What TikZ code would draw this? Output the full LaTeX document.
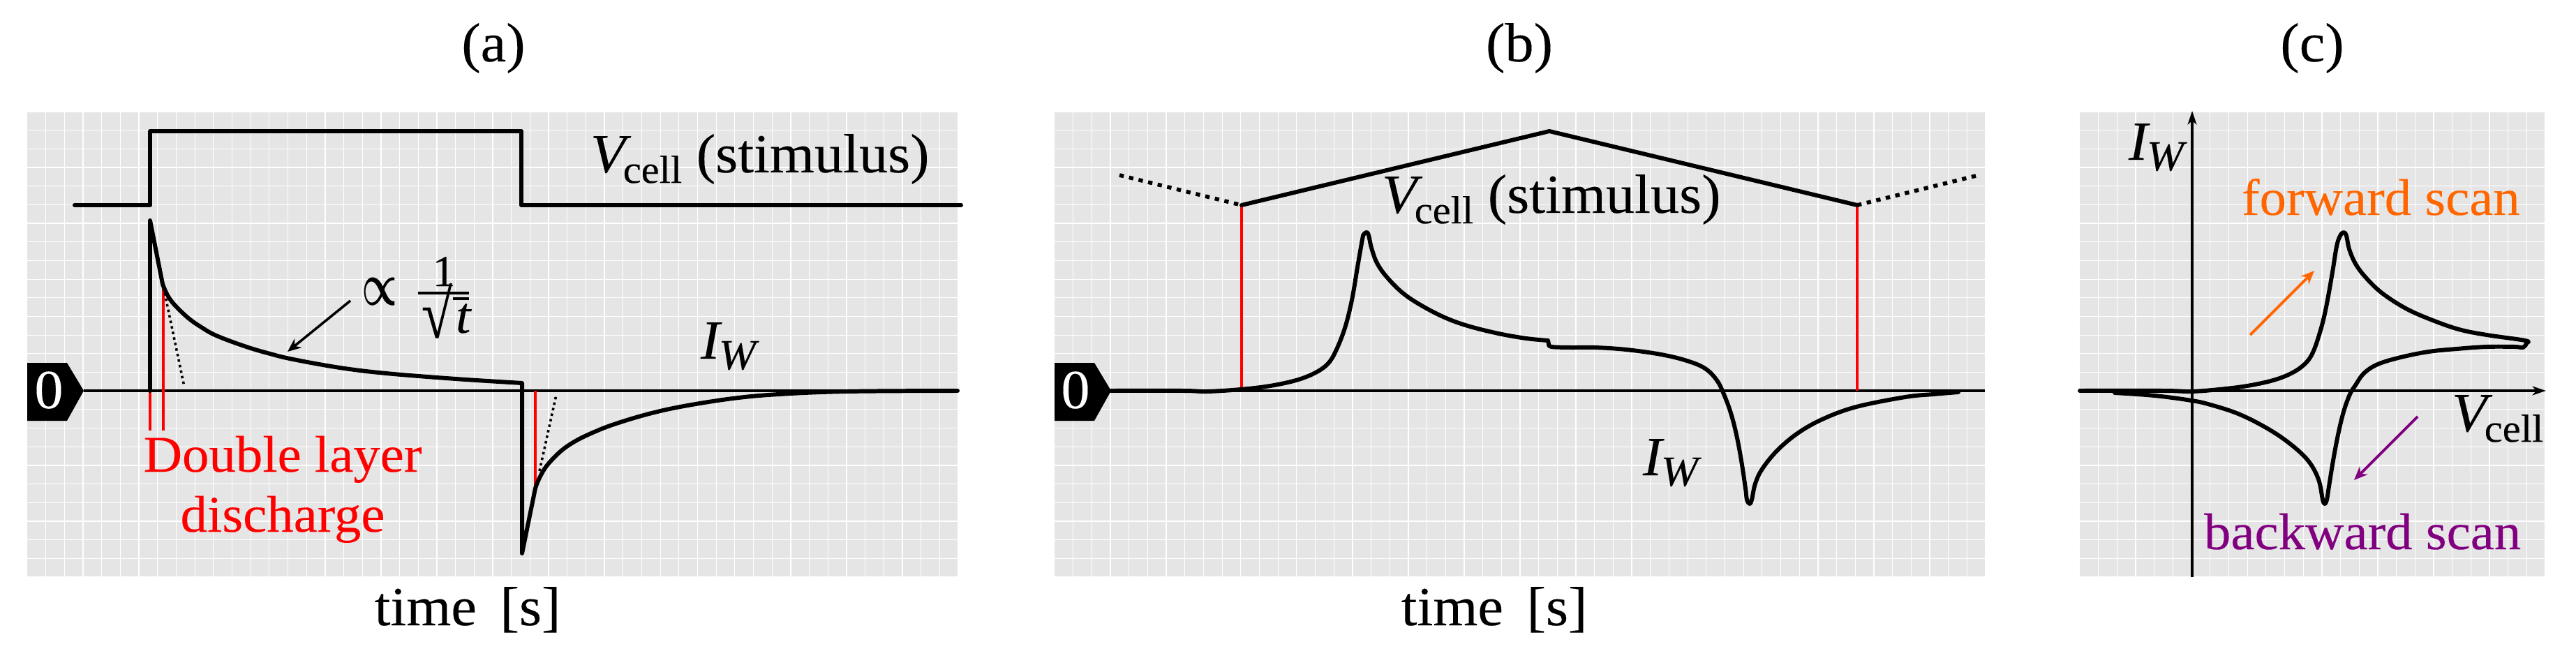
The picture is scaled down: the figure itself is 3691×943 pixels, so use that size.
\documentclass[tikz,border=0pt]{standalone}
\usepackage{fontspec}
\usepackage{graphicx}
\setmainfont{Liberation Serif}[FakeStretch=1.04,FakeBold=0.12]
\usetikzlibrary{arrows.meta}
\definecolor{panelgray}{HTML}{E5E5E5}
\definecolor{scanorange}{HTML}{FF6600}
\definecolor{scanpurple}{HTML}{800080}
\definecolor{dlred}{HTML}{FF0000}
\newcommand{\bigsize}{\fontsize{22.5}{26}\selectfont}
\newcommand{\midsize}{\fontsize{21}{25}\selectfont}
\newcommand{\subsize}{\fontsize{16}{18}\selectfont}
\newcommand{\Vcell}{{\itshape V}\kern-1pt\raisebox{-4.3pt}{\subsize cell}}
\newcommand{\Iw}{{\itshape I}\kern-0.5pt\raisebox{-4.3pt}{\fontsize{17.5}{20}\selectfont\itshape W}}
\tikzset{
  txt/.style={inner sep=0pt,outer sep=0pt,anchor=base west,font=\bigsize},
  ctxt/.style={txt,anchor=base},
  scan/.style={txt,font=\midsize},
  heavy/.style={black,line width=1.7pt,line cap=round,line join=round},
  curve/.style={smooth,tension=0.6},
  axisline/.style={black,line width=1.15pt},
  redline/.style={dlred,line width=1pt},
  fine/.style={black,line width=1pt,dash pattern=on 1pt off 1.3pt},
  coarse/.style={black,line width=1.6pt,dash pattern=on 1.8pt off 2.2pt},
  tipped/.style={line width=1.1pt,-{Stealth[length=5.5pt,width=4.6pt,inset=1.8pt]}},
  axisarrow/.style={axisline,-{Stealth[length=5.5pt,width=3.6pt,inset=1.5pt]}},
  tagbox/.style={fill=black,draw=none},
  gridline/.style={white,line width=0.35pt}
}
\newcommand{\panelbg}[2]{%
  \fill[panelgray] (#1,160) rectangle ++(#2,667);
  \foreach \k in {0,...,25} \draw[gridline] (#1,160+\k*26.68) -- ++(#2,0);
  \pgfmathtruncatemacro{\nv}{round(#2/26.68)}
  \foreach \k in {1,...,\nv} \draw[gridline] ({#1+\k*26.68},160) -- ++(0,667);
}
\begin{document}
\begin{tikzpicture}[x=0.01cm,y=-0.01cm]
\path[use as bounding box,fill=white] (0,0) rectangle (3691,943);
\panelbg{39}{1334}
\panelbg{1511}{1333}
\panelbg{2980}{666}

\node[ctxt] (ta) at (707,88) {(a)};
\node[ctxt] (tb) at (2177,88) {(b)};
\node[ctxt] (tc) at (3313,88) {(c)};

% ---- panel a
\draw[axisline] (120,560) -- (1373,560);
\draw[redline] (215,560) -- (215,617);
\draw[redline] (234,413) -- (234,617);
\draw[redline] (767,560) -- (767,700);
\draw[fine] (236,420) -- (264,554);
\draw[fine] (773,675) -- (797,566);
\draw[heavy] (107,294) -- (215,294) -- (215,188) -- (747,188) -- (747,294) -- (1377,294);
\draw[heavy] (215,560) -- (215,316) -- (233,407)
  plot[curve] coordinates {(233,407) (237,417) (243,428) (253,440) (270,456) (287,468) (310,481) (353,497) (387,507) (420,515) (487,527) (553,535) (653,543) (748,549)}
  -- (748,793) -- (767,700)
  plot[curve] coordinates {(767,700) (772,687) (783,668) (803,647) (823,633) (847,621) (880,608) (930,593) (980,582) (1050,571) (1116,565) (1214,561) (1372,560)};
\node[txt,font=\fontsize{20}{22}\selectfont,anchor=center] (pr) at (544,418) {\scalebox{.78}[1.2]{\boldmath$\propto$}};
\node[ctxt,font=\fontsize{18}{20}\selectfont] (one) at (636,410) {1};
\coordinate (barl) at (599,420);
\coordinate (barr) at (672,420);
\draw[axisline] (barl) -- (barr);
\node[txt,font=\fontsize{28}{30}\selectfont] (rt) at (604,484) {\scalebox{.78}[1]{√}};
\node[txt,font=\fontsize{21}{24}\selectfont\itshape] (tt) at (653,477) {t};
\coordinate (rootl) at (649,428);
\coordinate (rootr) at (672,428);
\draw[line width=1pt] (rootl) -- (rootr);
\coordinate (arra) at (502,431);
\coordinate (arrb) at (412,504);
\draw[tipped,black,line width=1pt] (arra) -- (arrb);
\node[txt] (va) at (846,247) {\Vcell\ (stimulus)};
\node[txt] (ia) at (1004,514) {\Iw};
\node[scan,anchor=base,dlred] (d1) at (405,676) {Double layer};
\node[scan,anchor=base,dlred] (d2) at (405,762) {discharge};
\node[ctxt] (xa) at (670,896) {time\,\ [s]};
\fill[tagbox] (39,520) -- (96,520) -- (120,560) -- (96,603) -- (39,603) -- cycle;
\node[ctxt,white] (za) at (70,585) {0};

% ---- panel b
\draw[axisline] (1592,560) -- (2844,560);
\draw[redline] (1779,294) -- (1779,560);
\draw[redline] (2661,294) -- (2661,560);
\draw[coarse] (1604,251) -- (1779,294);
\draw[coarse] (2661,294) -- (2835,251);
\draw[heavy] (1779,294) -- (2220,188) -- (2661,294);
\draw[heavy] plot[curve] coordinates {(1592,560) (1695,560) (1730,561) (1778,558) (1820,553) (1857,545) (1883,535) (1902,522) (1914,503) (1927,470) (1937,430) (1945,383) (1952,343) (1954,336) (1958,333) (1961,337) (1965,355) (1973,377) (1987,397) (2010,420) (2037,438) (2070,455) (2103,467) (2147,478) (2187,485) (2218,488)}
  -- (2219,493)
  plot[curve] coordinates {(2219,493) (2223,497) (2250,498) (2285,498) (2330,501) (2380,508) (2417,517) (2443,528) (2460,545) (2470,565) (2480,592) (2488,623) (2495,660) (2501,700) (2503,716) (2507,722) (2510,716) (2515,693) (2525,672) (2547,645) (2577,620) (2613,600) (2660,583) (2730,569) (2770,565) (2806,562)};
\node[txt] (vb) at (1980,305) {\Vcell\ (stimulus)};
\node[txt] (ib) at (2354,681) {\Iw};
\node[ctxt] (xb) at (2141,896) {time\,\ [s]};
\fill[tagbox] (1511,520) -- (1568,520) -- (1592,560) -- (1568,603) -- (1511,603) -- cycle;
\node[ctxt,white] (zb) at (1541,585) {0};

% ---- panel c
\draw[axisarrow] (3141,827) -- (3141,159);
\draw[axisarrow] (2979,560) -- (3648,560);
\draw[heavy] plot[curve] coordinates {(2980,560) (3100,560) (3140,561) (3180,558) (3220,553) (3257,545) (3283,535) (3302,522) (3314,505) (3325,473) (3333,440) (3342,390) (3348,353) (3353,338) (3358,333) (3362,338) (3366,357) (3375,378) (3390,398) (3413,420) (3447,442) (3483,458) (3523,472) (3563,480) (3618,488) (3620,492) (3615,498) (3603,497) (3563,497) (3520,500) (3480,504) (3440,512) (3407,522) (3387,535) (3375,552) (3367,565) (3358,590) (3350,623) (3343,660) (3337,697) (3334,716) (3331,722) (3328,716) (3322,687) (3307,660) (3280,635) (3247,613) (3207,593) (3167,580) (3140,574) (3087,567) (3030,563)};
\coordinate (fa) at (3224,480);
\coordinate (fb) at (3316,388);
\coordinate (ba) at (3464,597);
\coordinate (bb) at (3373,688);
\draw[tipped,scanorange] (fa) -- (fb);
\draw[tipped,scanpurple] (ba) -- (bb);
\node[txt] (ic) at (3050,229) {\Iw};
\node[txt] (vc) at (3513,618) {\Vcell};
\node[scan,scanorange] (fs) at (3212,308) {forward scan};
\node[scan,scanpurple] (bs) at (3158,787) {backward scan};
\end{tikzpicture}
\end{document}
